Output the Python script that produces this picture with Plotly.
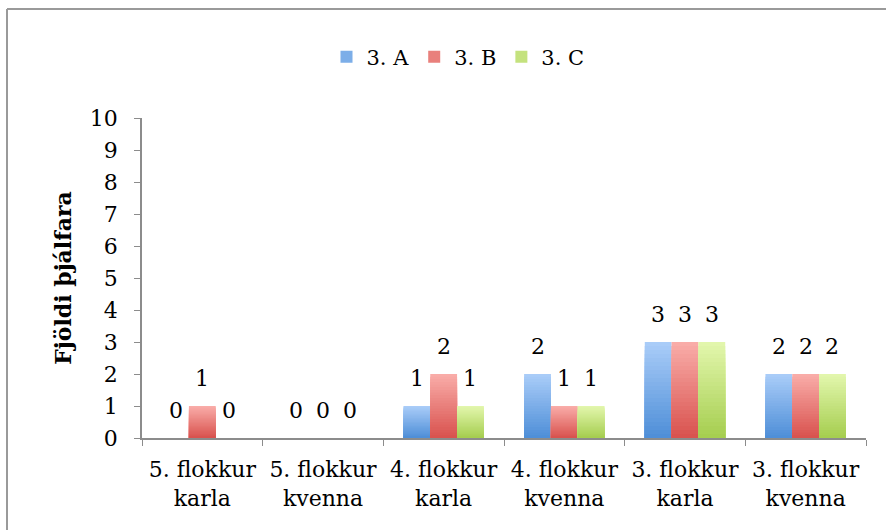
import plotly.graph_objects as go

# Categories and counts per team
categories = ["5. flokkur<br>karla", "5. flokkur<br>kvenna", "4. flokkur<br>karla",
              "4. flokkur<br>kvenna", "3. flokkur<br>karla", "3. flokkur<br>kvenna"]
series_names = ["3. A", "3. B", "3. C"]
values_a = [0, 0, 1, 2, 3, 2]
values_b = [1, 0, 2, 1, 3, 2]
values_c = [0, 0, 1, 1, 3, 2]
y_ticks = list(range(0, 11))

# (top colour, bottom colour) of the vertical gradient fill for each series
gradients = [("#A9CCF8", "#4F8FD8"), ("#F9ACA8", "#D9534F"), ("#E2F6AC", "#A6CE50")]

W, H = 886, 530
ML, MR, MT, MB = 142, 20, 118, 92
FONT = "DejaVu Serif"
AXIS_GRAY = "#8C8C8C"


def hex_to_rgb(h):
    h = h.lstrip("#")
    return tuple(int(h[i:i + 2], 16) for i in (0, 2, 4))


def blend(c1, c2, t):
    a, b = hex_to_rgb(c1), hex_to_rgb(c2)
    r = [round(a[i] + (b[i] - a[i]) * t) for i in range(3)]
    return f"rgb({r[0]},{r[1]},{r[2]})"


fig = go.Figure()
all_values = [values_a, values_b, values_c]
STEPS = 24

for s, (name, vals, (top, bottom)) in enumerate(zip(series_names, all_values, gradients)):
    # Layered bars: full-height light bar first, then progressively shorter, darker ones
    for k in range(STEPS):
        frac = (STEPS - k) / STEPS
        colour = blend(top, bottom, k / (STEPS - 1))
        fig.add_trace(go.Bar(
            x=categories,
            y=[v * frac for v in vals],
            name=name,
            offsetgroup=name,
            marker=dict(color=colour, line=dict(width=0)),
            showlegend=False,
            hoverinfo="skip",
        ))
    # Legend entry for the series
    fig.add_trace(go.Bar(
        x=[None], y=[None], name=name, offsetgroup=name,
        marker=dict(color=blend(top, bottom, 0.5), line=dict(width=0)),
        showlegend=True,
    ))

# Value labels above each bar
plot_w = W - ML - MR
band = plot_w / len(categories)
bargap = 1 / 3
bar_w = band * (1 - bargap) / 3
for s, vals in enumerate(all_values):
    for cat, v in zip(categories, vals):
        fig.add_annotation(
            x=cat, y=v, xref="x", yref="y", text=str(v), showarrow=False,
            xshift=(s - 1) * bar_w, yshift=28, yanchor="middle",
            font=dict(family=FONT, size=22, color="#000000"),
        )

# Outer frame (top and left edges visible)
def px_x(p):
    return (p - ML) / plot_w


def px_y(p):
    return (H - MB - p) / (H - MT - MB)


fig.add_shape(type="line", xref="paper", yref="paper",
              x0=px_x(7), x1=px_x(W + 5), y0=px_y(9), y1=px_y(9),
              line=dict(color="#9A9A9A", width=2))
fig.add_shape(type="line", xref="paper", yref="paper",
              x0=px_x(7), x1=px_x(7), y0=px_y(9), y1=px_y(H + 5),
              line=dict(color="#9A9A9A", width=2))

fig.update_layout(
    width=W, height=H,
    margin=dict(l=ML, r=MR, t=MT, b=MB, pad=0),
    paper_bgcolor="white", plot_bgcolor="white",
    barmode="group", bargap=bargap, bargroupgap=0,
    font=dict(family=FONT, size=22, color="#000000"),
    legend=dict(
        orientation="h", x=px_x(458), y=px_y(57), xanchor="center", yanchor="middle",
        font=dict(family=FONT, size=21), traceorder="normal",
        itemwidth=30, bgcolor="rgba(0,0,0,0)",
    ),
    xaxis=dict(
        type="category", showline=True, linecolor=AXIS_GRAY, linewidth=1.5,
        ticks="outside", tickson="boundaries", ticklen=6, tickcolor=AXIS_GRAY,
        tickfont=dict(family=FONT, size=22), showgrid=False, zeroline=False,
        ticklabelstandoff=11, fixedrange=True,
    ),
    yaxis=dict(
        range=[0, 10], tickvals=y_ticks, showline=True, linecolor=AXIS_GRAY,
        linewidth=1.5, ticks="outside", ticklen=6, tickcolor=AXIS_GRAY,
        tickfont=dict(family=FONT, size=22), showgrid=False, zeroline=False,
        ticklabelstandoff=12,
        title=dict(text="<b>Fjöldi þjálfara</b>", font=dict(family=FONT, size=22), standoff=12),
        fixedrange=True,
    ),
)

fig.write_html("out.html")
